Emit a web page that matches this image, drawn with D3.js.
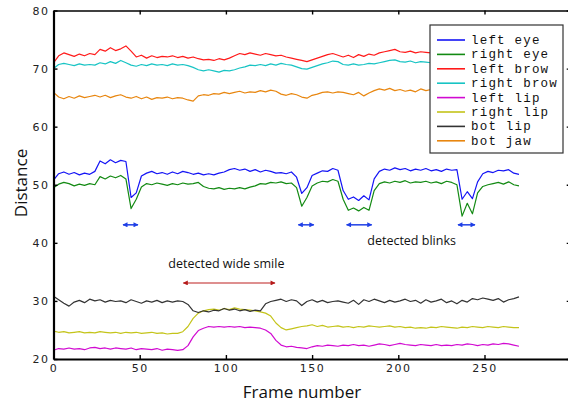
<!DOCTYPE html>
<html>
<head>
<meta charset="utf-8">
<script src="https://cdnjs.cloudflare.com/ajax/libs/d3/7.8.5/d3.min.js"></script>
<style>
  body { margin: 0; background: #fff; }
  .tick text { font-family: "DejaVu Sans", sans-serif; font-size: 11px; letter-spacing: 1.5px; fill: #222; }
  .axis-label { font-family: "Open Sans", sans-serif; font-size: 17px; fill: #111; }
  .note { font-family: "Open Sans", sans-serif; font-size: 12.5px; fill: #111; }
  .legend text { font-family: "Liberation Mono", monospace; font-size: 12.5px; letter-spacing: 1.2px; fill: #111; }
</style>
</head>
<body>
<div id="chart"></div>
<script>
// frames are sampled every 3rd frame, 0..270
let frames = d3.range(0, 271, 3);

let seriesNames = ["left eye", "right eye", "left brow", "right brow", "left lip", "right lip", "bot lip", "bot jaw"];
let seriesColors = ["#1414f5", "#138a13", "#ff1a1a", "#17c4c4", "#d10ad1", "#c4c41a", "#333333", "#e8860f"];

let leftEye = [
  50.8, 51.9, 52.2, 51.8, 52.1, 51.7, 52.0, 51.8, 52.3, 54.1,
  53.6, 54.3, 53.8, 54.2, 54.0, 47.8, 48.6, 51.5, 52.0, 52.3,
  51.9, 52.1, 51.8, 52.2, 51.9, 52.3, 52.1, 51.8, 52.0, 51.7,
  51.9, 51.7, 52.0, 52.2, 52.6, 52.8, 52.5, 52.7, 52.3, 52.6,
  52.2, 52.5, 52.3, 52.0, 52.1, 51.9, 52.2, 51.3, 48.5, 49.5,
  51.6, 52.0, 52.4, 52.3, 52.8, 52.5, 49.0, 47.5, 47.9, 47.3,
  48.1, 47.4, 51.0, 52.3, 52.7, 52.5, 52.9, 52.6, 52.8, 52.4,
  52.7, 52.5, 52.8, 52.4, 52.6, 52.3, 52.7, 52.5, 52.6, 47.5,
  48.8, 47.6, 50.5, 51.9, 52.3, 52.1, 52.5, 52.4, 52.6, 52.0,
  51.8
];
let rightEye = [
  49.5, 50.1, 50.4, 50.2, 49.8, 50.1, 49.9, 50.2, 50.0, 51.4,
  51.0, 51.5, 51.2, 51.6, 51.0, 45.9, 47.5, 49.6, 50.2, 50.0,
  50.3, 50.1, 49.9, 50.2, 50.0, 50.3, 50.1, 50.2, 50.4, 49.7,
  49.4, 49.3, 49.5, 49.2, 49.4, 49.3, 49.5, 49.3, 49.6, 49.8,
  50.2, 50.1, 50.4, 50.3, 50.5, 50.2, 50.3, 49.5, 46.3, 47.8,
  49.8, 50.3, 50.6, 50.5, 50.9, 50.6, 47.5, 45.6, 46.0, 45.5,
  46.1, 45.6, 49.0, 50.2, 50.5, 50.3, 50.6, 50.4, 50.7, 50.3,
  50.5, 50.4, 50.6, 50.3, 50.5, 50.2, 50.6, 50.4, 50.0, 44.6,
  46.8, 45.0, 48.6, 49.7, 50.0, 50.2, 50.4, 50.1, 50.5, 50.0,
  49.8
];
let leftBrow = [
  71.0, 72.2, 72.7, 72.4, 72.1, 72.5, 72.2, 72.6, 72.4, 73.3,
  73.0, 73.6, 73.1, 73.4, 73.9, 73.0, 72.0, 72.3, 71.8, 72.2,
  71.9, 72.1, 72.0, 72.2, 71.9, 72.1, 71.8, 72.0, 71.7, 71.5,
  71.6, 71.4, 71.7, 71.5, 71.8, 72.2, 72.6, 72.4, 72.7, 72.5,
  72.3, 72.6, 72.4, 72.2, 72.3, 72.0, 71.8, 71.6, 71.4, 71.2,
  71.5, 71.8, 72.1, 72.4, 72.6, 72.3, 72.0, 72.3, 71.9, 72.4,
  72.1, 72.5, 72.3, 72.7, 72.9, 73.1, 73.3, 72.9, 72.8, 73.0,
  72.7, 72.9, 72.8, 72.7, 72.8, 72.6, 72.8, 72.7, 72.9, 72.6,
  72.8, 72.7, 72.9, 72.6, 72.8, 72.7, 72.9, 72.6, 72.8, 72.7,
  72.6
];
let rightBrow = [
  70.0, 70.7, 70.9, 70.7, 70.5, 70.8, 70.6, 70.7, 70.6, 71.0,
  70.8, 71.2, 70.9, 71.4, 71.0, 70.6, 70.4, 70.7, 70.5, 70.8,
  70.6, 70.7, 70.5, 70.8, 70.6, 70.7, 70.5, 70.2, 69.8, 69.6,
  69.8, 69.6, 69.4, 69.7, 69.6, 69.8, 70.1, 70.3, 70.6, 70.5,
  70.7, 70.5, 70.8, 70.6, 70.9, 70.7, 70.6, 70.3, 70.0, 69.9,
  70.2, 70.5, 70.8, 71.0, 71.3, 71.2, 70.7, 70.6, 70.8, 70.6,
  70.7, 70.9, 70.8, 71.0, 71.2, 71.4, 71.5, 71.2, 71.1, 71.3,
  71.0, 71.2, 71.1, 71.0, 71.2, 71.1, 71.3, 71.0, 71.2, 71.1,
  71.0, 71.2, 71.1, 71.3, 71.0, 71.2, 71.1, 71.0, 71.2, 71.1,
  71.0
];
let leftLip = [
  21.5, 21.8, 21.7, 21.9, 21.7, 21.8, 21.6, 21.9, 22.0, 21.8,
  21.9, 21.7, 21.9, 21.8, 21.7, 21.9, 21.6, 21.8, 21.7, 21.6,
  21.8, 21.5, 21.7, 21.6, 21.5, 21.6, 22.3, 23.8, 24.9, 25.3,
  25.6, 25.5, 25.6, 25.5, 25.6, 25.5, 25.6, 25.4, 25.5, 25.4,
  25.3, 25.0, 24.4, 23.2, 22.4, 22.1, 22.2, 22.0, 21.9, 21.8,
  22.1, 22.3, 22.2, 22.4, 22.3, 22.2, 22.4, 22.3, 22.5, 22.3,
  22.4, 22.2, 22.4, 22.6, 22.5, 22.3, 22.5, 22.7, 22.5, 22.4,
  22.3, 22.5, 22.4, 22.3, 22.5, 22.3, 22.4, 22.3, 22.5, 22.4,
  22.6, 22.5, 22.3, 22.5, 22.4, 22.6, 22.5, 22.7, 22.6, 22.4,
  22.2
];
let rightLip = [
  24.8, 24.6, 24.7, 24.5, 24.6, 24.7, 24.5, 24.6, 24.5, 24.7,
  24.6, 24.5, 24.6, 24.4, 24.6, 24.5, 24.6, 24.4, 24.5, 24.6,
  24.4, 24.5, 24.3, 24.4, 24.4, 24.7, 25.6, 27.0, 27.9, 28.3,
  28.5, 28.6, 28.4, 28.7, 28.5, 28.8, 28.6, 28.5, 28.4, 28.3,
  28.1, 27.9, 27.4, 26.2, 25.4, 25.0, 25.2, 25.4, 25.6, 25.7,
  25.9, 25.6, 25.8, 25.5, 25.6, 25.7, 25.5, 25.6, 25.4, 25.6,
  25.5, 25.7, 25.6, 25.5, 25.6, 25.7, 25.5, 25.6, 25.4, 25.5,
  25.3, 25.4, 25.3, 25.5, 25.4, 25.6, 25.5, 25.4, 25.3, 25.5,
  25.4, 25.6, 25.5, 25.4, 25.6, 25.5, 25.4, 25.6, 25.5, 25.4,
  25.4
];
let botLip = [
  30.8, 30.2, 29.6, 29.1, 29.8, 30.1, 29.7, 30.3, 30.0, 30.2,
  29.8, 30.1, 29.9, 30.0, 29.7, 30.2, 29.9, 29.6, 30.0, 29.8,
  30.1, 29.7, 30.0, 29.8, 30.0, 29.9, 29.4, 28.3, 28.0, 28.3,
  28.1, 28.4, 28.3, 28.7, 28.4, 28.6, 28.3, 28.5, 28.2, 28.4,
  28.3, 29.5, 29.9, 30.1, 30.3, 29.9, 30.2, 30.0, 29.2, 29.9,
  30.2, 29.8, 30.1, 29.7, 29.9, 30.0, 29.8, 29.6, 30.1, 29.4,
  30.2, 29.9, 30.3, 30.0, 29.7, 30.1, 29.8, 30.0, 30.3, 29.9,
  30.1, 29.6, 30.2, 29.8, 30.0, 30.3, 29.7, 30.0, 29.5, 30.1,
  29.8, 30.4, 30.2, 30.5, 30.3, 30.1, 30.4, 29.8, 30.2, 30.4,
  30.7
];
let botJaw = [
  65.9, 65.1, 64.8, 65.2, 64.9, 65.3, 65.0, 65.2, 65.4, 65.1,
  65.4, 65.0, 65.3, 65.5, 65.1, 64.9, 65.2, 64.8, 65.1, 64.7,
  65.0, 64.9, 65.1, 64.8, 65.0, 64.9, 64.6, 64.4, 65.3, 65.5,
  65.4, 65.7, 65.6, 65.9, 65.7, 65.9, 66.1, 65.8, 66.0, 65.9,
  66.2, 66.0, 66.3, 66.1, 65.6, 65.4, 65.7, 65.5, 65.1, 64.9,
  65.4, 65.6, 65.9, 66.0, 65.8, 66.0, 65.9, 65.7, 65.5, 65.9,
  65.3, 65.8, 66.2, 66.5, 66.3, 66.6, 66.2, 66.4, 66.1, 66.3,
  66.0, 66.5, 66.2, 66.4, 66.3, 66.1, 66.4, 66.2, 66.5, 66.3,
  66.1, 66.4, 66.2, 66.5, 66.3, 66.2, 66.4, 66.1, 66.3, 66.2,
  66.4
];

let xTicks = [0, 50, 100, 150, 200, 250];
let yTicks = [20, 30, 40, 50, 60, 70, 80];

// annotations (frame ranges / levels)
let blinkRanges = [[40.3, 49], [142, 151], [170, 184.6], [234.6, 244.5]];
let blinkLevel = 43.1;
let smileRange = [75.3, 128.5];
let smileLevel = 33.1;

let allSeries = [leftEye, rightEye, leftBrow, rightBrow, leftLip, rightLip, botLip, botJaw];

let W = 568, H = 406;
let plot = { left: 53.5, right: 570.7, top: 10.5, bottom: 359 };

let svg = d3.select("#chart").append("svg")
  .attr("width", W)
  .attr("height", H);

let xScale = d3.scaleLinear().domain([0, 300]).range([plot.left, plot.right]);
let yScale = d3.scaleLinear().domain([20, 80]).range([plot.bottom, plot.top]);

let line = d3.line()
  .x((d, i) => xScale(frames[i]))
  .y((d) => yScale(d));

// data lines
svg.append("g")
  .selectAll("path")
  .data(allSeries)
  .join("path")
  .attr("d", line)
  .attr("fill", "none")
  .attr("stroke", (d, i) => seriesColors[i])
  .attr("stroke-width", 1.2)
  .attr("stroke-linejoin", "round");

// arrow markers
let defs = svg.append("defs");
function addMarker(id, color, orient) {
  defs.append("marker")
    .attr("id", id)
    .attr("viewBox", "0 0 10 10")
    .attr("refX", 9).attr("refY", 5)
    .attr("markerWidth", 6).attr("markerHeight", 5)
    .attr("markerUnits", "userSpaceOnUse")
    .attr("orient", orient)
    .append("path")
    .attr("d", "M0,0 L10,5 L0,10 Z")
    .attr("fill", color);
}
addMarker("blueEnd", "#1f3fe6", "auto");
addMarker("blueStart", "#1f3fe6", "auto-start-reverse");
addMarker("redEnd", "#b51a1a", "auto");
addMarker("redStart", "#b51a1a", "auto-start-reverse");

svg.append("g")
  .selectAll("line")
  .data(blinkRanges)
  .join("line")
  .attr("x1", (d) => xScale(d[0]))
  .attr("x2", (d) => xScale(d[1]))
  .attr("y1", yScale(blinkLevel))
  .attr("y2", yScale(blinkLevel))
  .attr("stroke", "#1f3fe6")
  .attr("stroke-width", 1.5)
  .attr("marker-start", "url(#blueStart)")
  .attr("marker-end", "url(#blueEnd)");

svg.append("line")
  .attr("x1", xScale(smileRange[0]))
  .attr("x2", xScale(smileRange[1]))
  .attr("y1", yScale(smileLevel))
  .attr("y2", yScale(smileLevel))
  .attr("stroke", "#d36a6a")
  .attr("stroke-width", 1.5)
  .attr("marker-start", "url(#redStart)")
  .attr("marker-end", "url(#redEnd)");

svg.append("text")
  .attr("class", "note")
  .attr("x", xScale(182))
  .attr("y", yScale(39.6))
  .text("detected blinks");

svg.append("text")
  .attr("class", "note")
  .attr("x", xScale(66.6))
  .attr("y", yScale(35.6))
  .text("detected wide smile");

// axes, ticks pointing inward on all four sides
let xAxisEl = svg.append("g")
  .attr("transform", "translate(0," + plot.bottom + ")")
  .call(d3.axisBottom(xScale).tickValues(xTicks).tickSizeInner(-4).tickSizeOuter(0).tickPadding(5));
let xTopEl = svg.append("g")
  .attr("transform", "translate(0," + plot.top + ")")
  .call(d3.axisTop(xScale).tickValues(xTicks).tickSizeInner(-4).tickSizeOuter(0).tickFormat(""));
let yAxisEl = svg.append("g")
  .attr("transform", "translate(" + plot.left + ",0)")
  .call(d3.axisLeft(yScale).tickValues(yTicks).tickSizeInner(-4).tickSizeOuter(0).tickPadding(4));
let yRightEl = svg.append("g")
  .attr("transform", "translate(" + plot.right + ",0)")
  .call(d3.axisRight(yScale).tickValues(yTicks).tickSizeInner(-4).tickSizeOuter(0).tickFormat(""));

xAxisEl.select(".domain").attr("stroke-width", 2.2);
yAxisEl.select(".domain").attr("stroke-width", 2.2);
xTopEl.select(".domain").attr("stroke-width", 1.6);
yRightEl.select(".domain").attr("stroke-width", 1.6);
svg.selectAll(".tick line").attr("stroke-width", 1.4);

svg.append("text")
  .attr("class", "axis-label")
  .attr("x", 302)
  .attr("y", 398)
  .attr("text-anchor", "middle")
  .text("Frame number");

svg.append("text")
  .attr("class", "axis-label")
  .attr("transform", "translate(26.5,183) rotate(-90)")
  .attr("text-anchor", "middle")
  .text("Distance");

// legend
let legend = svg.append("g").attr("class", "legend");
legend.append("rect")
  .attr("x", 430).attr("y", 25)
  .attr("width", 133).attr("height", 128)
  .attr("fill", "#fff")
  .attr("stroke", "#333")
  .attr("stroke-width", 1.2);

let rows = legend.selectAll("g.row")
  .data(seriesNames)
  .join("g")
  .attr("class", "row")
  .attr("transform", (d, i) => "translate(437," + (40 + i * 14.4) + ")");
rows.append("line")
  .attr("x1", 0).attr("x2", 28)
  .attr("stroke", (d, i) => seriesColors[i])
  .attr("stroke-width", 1.6);
rows.append("text")
  .attr("x", 34)
  .attr("y", 4)
  .text((d) => d);
</script>
</body>
</html>
